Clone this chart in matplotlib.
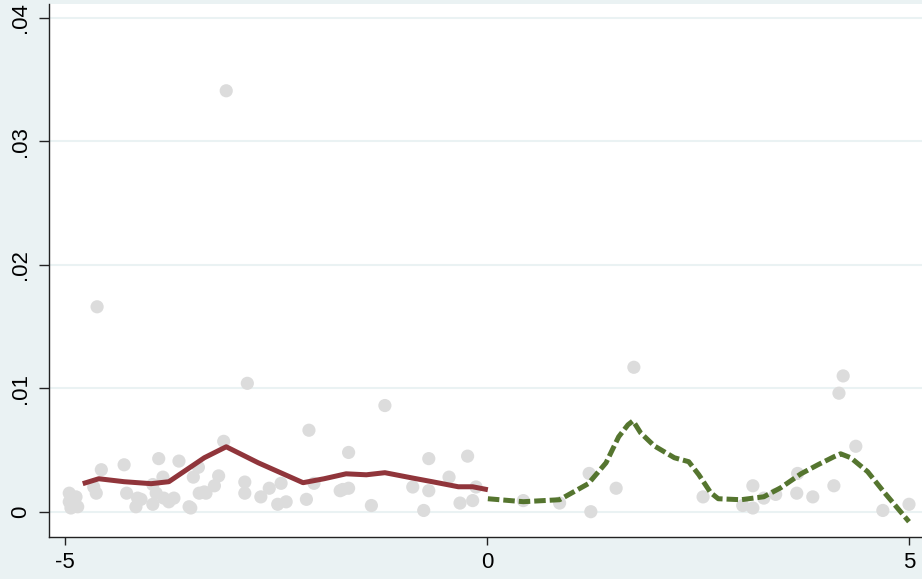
import matplotlib
matplotlib.use("Agg")
import matplotlib.pyplot as plt

# scatter (raw points)
pt_x = [-4.95, -4.87, -4.95, -4.85, -4.93, -4.57, -4.63, -4.30, -4.27, -4.16,
        -4.10, -3.89, -3.65, -3.96, -3.92, -3.84, -3.77, -3.71, -3.53, -3.48,
        -3.42, -3.35, -3.41, -3.23, -3.18, -3.12, -3.09, -4.62, -2.84, -2.87,
        -2.87, -2.68, -2.58, -2.44, -2.48, -2.38, -2.14, -2.11, -2.05, -1.74,
        -1.64, -1.64, -1.71, -1.37, -1.21, -0.88, -0.69, -0.69, -0.75, -0.45,
        -0.23, -0.32, -0.17, -0.13, -3.83, -3.96, -4.14, -4.66, -3.51, -3.33,
        0.43, 0.86, 1.21, 1.23, 1.53, 1.74, 2.56, 3.03, 3.15, 3.15,
        3.28, 3.42, 3.68, 3.67, 3.86, 4.11, 4.17, 4.22, 4.37, 4.69, 5.00]
pt_y = [.0015, .0012, .0008, .0004, .0003, .0034, .0015, .0038, .0015, .0004,
        .0010, .0043, .0041, .0022, .0015, .0028, .0008, .0011, .0004, .0028,
        .0036, .0016, .0015, .0021, .0029, .0057, .0341, .0166, .0104, .0024,
        .0015, .0012, .0019, .0023, .0006, .0008, .0010, .0066, .0023, .0017,
        .0048, .0019, .0018, .0005, .0086, .0020, .0043, .0017, .0001, .0028,
        .0045, .0007, .0009, .0020, .0011, .0006, .0011, .0020, .0003, .0015,
        .0009, .0007, .0031, .0000, .0019, .0117, .0012, .0005, .0003, .0021,
        .0011, .0014, .0031, .0015, .0012, .0021, .0096, .0110, .0053, .0001, .0006]

# smoothed curve, x < 0
neg_x = [-4.79, -4.60, -4.30, -3.98, -3.77, -3.35, -3.09, -2.71, -2.18, -1.93,
         -1.67, -1.43, -1.21, -0.90, -0.65, -0.34, -0.17, 0.01]
neg_y = [.00227, .00267, .00243, .00227, .00243, .00437, .00526, .00396, .00235, .00267,
         .00307, .00299, .00316, .00275, .00243, .00202, .00202, .00178]

# smoothed curve, x > 0
pos_x = [0.01, 0.43, 0.86, 1.20, 1.41, 1.56, 1.67, 1.73, 1.82, 1.98,
         2.22, 2.39, 2.51, 2.65, 2.74, 3.01, 3.28, 3.48, 3.72, 3.92,
         4.11, 4.19, 4.31, 4.51, 4.70, 4.88, 5.00]
pos_y = [.00105, .00081, .00097, .00227, .00396, .00607, .00704, .00736, .00639, .00534,
         .00437, .00405, .00299, .00154, .00105, .00097, .00121, .00194, .00307, .00380,
         .00445, .00469, .00437, .00324, .00162, .00016, -.00081]

x_ticks = [-5, 0, 5]
y_ticks = [0, .01, .02, .03, .04]
y_labels = ["0", ".01", ".02", ".03", ".04"]

bg = "#EAF2F3"
plt.rcParams["font.family"] = ["Liberation Sans", "DejaVu Sans"]

fig = plt.figure(figsize=(9.22, 5.79), dpi=100, facecolor=bg)
ax = fig.add_axes([49 / 922, 42 / 579, 873 / 922, 533 / 579])
ax.set_facecolor("white")

ax.scatter(pt_x, pt_y, s=90, color="#DCDCDC", edgecolors="none", zorder=2)
ax.plot(neg_x, neg_y, color="#90353B", lw=3.6, solid_capstyle="butt",
        solid_joinstyle="round", zorder=3)
ax.plot(pos_x, pos_y, color="#55752F", lw=3.6, dashes=(2.3, 0.8),
        dash_joinstyle="round", zorder=3)

ax.set_xlim(-5.19, 5.154)
ax.set_ylim(-0.00205, 0.04113)
ax.set_xticks(x_ticks)
ax.set_xticklabels([str(t) for t in x_ticks])
ax.set_yticks(y_ticks)
ax.set_yticklabels(y_labels, rotation=90, va="center")
ax.grid(axis="y", color=bg, lw=1.5, zorder=0)
ax.set_axisbelow(True)

for s in ["top", "right"]:
    ax.spines[s].set_visible(False)
for s in ["left", "bottom"]:
    ax.spines[s].set_color("#222222")
    ax.spines[s].set_linewidth(1)
ax.tick_params(axis="y", length=7, width=1, color="#222222", labelsize=16, pad=6)
ax.tick_params(axis="x", length=6, width=1, color="#222222", labelsize=16, pad=5)

fig.savefig("out.png", dpi=100, facecolor=bg)
